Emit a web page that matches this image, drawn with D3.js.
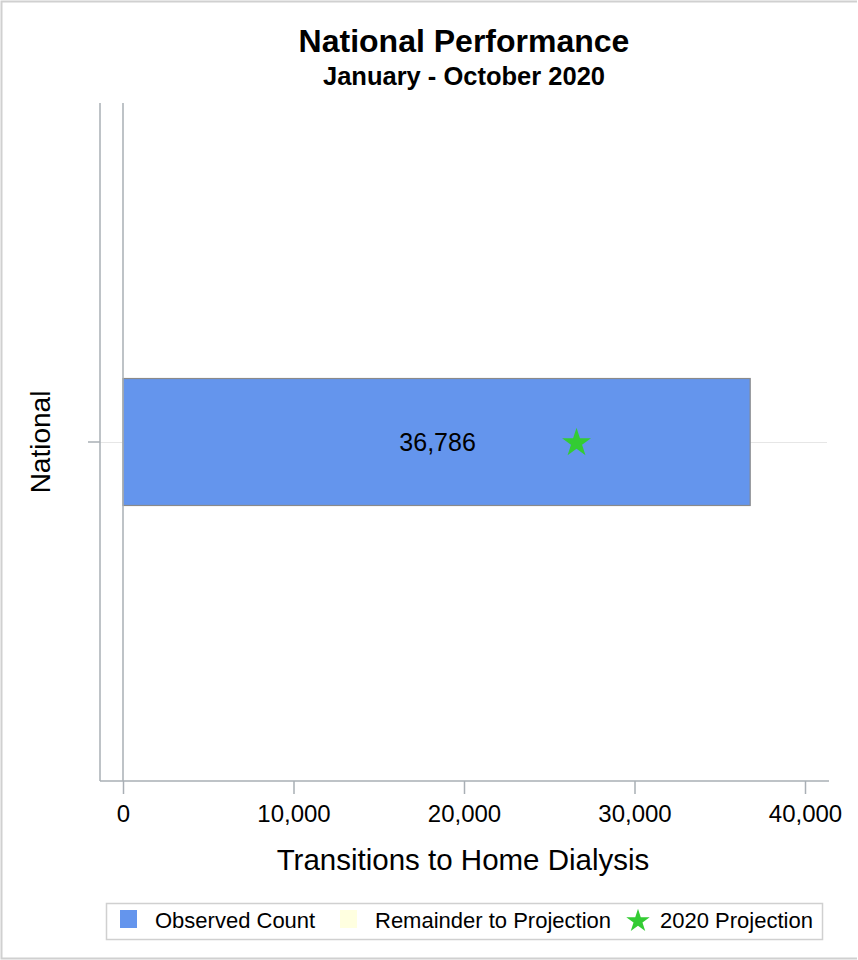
<!DOCTYPE html>
<html>
<head>
<meta charset="utf-8">
<script src="https://cdn.jsdelivr.net/npm/d3@7"></script>
<style>
  body { margin: 0; background: #fff; }
  text { font-family: "Liberation Sans", Arial, sans-serif; fill: #000; }
</style>
</head>
<body>
<script>
'use strict';

// chart data
let categories = ["National"];
let observed = [36786];
let projection = [26600];
let xTicks = [0, 10000, 20000, 30000, 40000];
let legendLabels = ["Observed Count", "Remainder to Projection", "2020 Projection"];

(function() {
  let svg = d3.select('body').append('svg')
    .attr('width', 858)
    .attr('height', 960);

  // outer frame (top, left, bottom)
  svg.append('path')
    .attr('d', 'M857,1.5H1.5V958.5H857')
    .attr('fill', 'none')
    .attr('stroke', '#d0d0d0')
    .attr('stroke-width', 2);

  let left = 100, right = 829, top = 103, bottom = 781;

  let x = d3.scaleLinear()
    .domain([0, 40000])
    .range([123, 805]);

  let y = d3.scaleBand()
    .domain(categories)
    .range([top, bottom])
    .paddingInner(0)
    .paddingOuter(2.17);

  let yMid = function(d) { return y(d) + y.bandwidth() / 2; };

  // grid line through category
  svg.selectAll('.grid')
    .data(categories)
    .enter()
    .append('line')
      .attr('x1', left).attr('x2', right - 2)
      .attr('y1', d => yMid(d) + 0.5).attr('y2', d => yMid(d) + 0.5)
      .attr('stroke', '#e6e6e6');

  // bars
  svg.selectAll('.bar')
    .data(categories)
    .enter()
    .append('rect')
      .attr('x', x(0))
      .attr('y', d => y(d))
      .attr('width', (d, i) => x(observed[i]) - x(0))
      .attr('height', y.bandwidth())
      .attr('fill', '#6495ED')
      .attr('stroke', '#8a8a8a')
      .attr('stroke-width', 1.2);

  // bar labels
  svg.selectAll('.barlabel')
    .data(categories)
    .enter()
    .append('text')
      .attr('x', (d, i) => x(observed[i] / 2) + 1)
      .attr('y', d => yMid(d))
      .attr('dy', '0.35em')
      .attr('text-anchor', 'middle')
      .style('font-size', '25px')
      .text((d, i) => d3.format(',')(observed[i]));

  // projection stars
  let star = d3.symbol().type(d3.symbolStar).size(260);
  svg.selectAll('.star')
    .data(categories)
    .enter()
    .append('path')
      .attr('d', star)
      .attr('transform', (d, i) => 'translate(' + x(projection[i]) + ',' + (yMid(d) + 1) + ')')
      .attr('fill', '#33cc33');

  // zero reference line
  svg.append('line')
    .attr('x1', x(0)).attr('x2', x(0))
    .attr('y1', top).attr('y2', bottom)
    .attr('stroke', '#a9afb5')
    .attr('stroke-width', 1.5);

  // x axis
  let xAxis = d3.axisBottom(x)
    .tickValues(xTicks)
    .tickFormat(d3.format(','))
    .tickSize(13)
    .tickSizeOuter(0);
  let gx = svg.append('g')
    .attr('transform', 'translate(0,' + bottom + ')')
    .call(xAxis);
  gx.select('.domain').remove();
  gx.selectAll('.tick line').attr('stroke', '#a9afb5').attr('stroke-width', 1.5);
  gx.selectAll('.tick text')
    .attr('y', 24)
    .style('font-size', '24px')
    .style('font-family', '"Liberation Sans", Arial, sans-serif');
  svg.append('line')
    .attr('x1', left).attr('x2', right)
    .attr('y1', bottom).attr('y2', bottom)
    .attr('stroke', '#a9afb5').attr('stroke-width', 1.5);

  // y axis
  let yAxis = d3.axisLeft(y).tickSize(12).tickSizeOuter(0).tickFormat('');
  let gy = svg.append('g')
    .attr('transform', 'translate(' + left + ',0)')
    .call(yAxis);
  gy.select('.domain').remove();
  gy.selectAll('.tick line').attr('stroke', '#a9afb5').attr('stroke-width', 1.5);
  svg.append('line')
    .attr('x1', left).attr('x2', left)
    .attr('y1', top).attr('y2', bottom)
    .attr('stroke', '#a9afb5').attr('stroke-width', 1.5);

  // category label
  svg.selectAll('.catlabel')
    .data(categories)
    .enter()
    .append('text')
      .attr('transform', d => 'translate(50,' + yMid(d) + ')rotate(-90)')
      .attr('text-anchor', 'middle')
      .style('font-size', '28px')
      .text(d => d);

  // titles
  svg.append('text')
    .attr('x', 464).attr('y', 52)
    .attr('text-anchor', 'middle')
    .style('font-size', '32px')
    .style('font-weight', 'bold')
    .text('National Performance');
  svg.append('text')
    .attr('x', 464).attr('y', 85)
    .attr('text-anchor', 'middle')
    .style('font-size', '25.5px')
    .style('font-weight', 'bold')
    .text('January - October 2020');

  svg.append('text')
    .attr('x', 463).attr('y', 870)
    .attr('text-anchor', 'middle')
    .style('font-size', '29.5px')
    .text('Transitions to Home Dialysis');

  // legend
  let lg = svg.append('g');
  lg.append('rect')
    .attr('x', 106.5).attr('y', 903.5)
    .attr('width', 716).attr('height', 36)
    .attr('fill', '#fff')
    .attr('stroke', '#d0d0d0')
    .attr('stroke-width', 1.5);

  let legendX = [120, 340, 628];
  let legendColors = ['#6495ED', '#FFFFE0', '#33cc33'];
  let legendStar = d3.symbol().type(d3.symbolStar).size(170);
  legendLabels.forEach(function(d, i) {
    if (i < 2) {
      lg.append('rect')
        .attr('x', legendX[i]).attr('y', 910)
        .attr('width', 17).attr('height', 18)
        .attr('fill', legendColors[i]);
    } else {
      lg.append('path')
        .attr('d', legendStar)
        .attr('transform', 'translate(' + (legendX[i] + 10) + ',921)')
        .attr('fill', legendColors[i]);
    }
    lg.append('text')
      .attr('x', legendX[i] + (i < 2 ? 35 : 32))
      .attr('y', 920)
      .attr('dy', '0.35em')
      .style('font-size', '22px')
      .text(d);
  });
})();
</script>
</body>
</html>
